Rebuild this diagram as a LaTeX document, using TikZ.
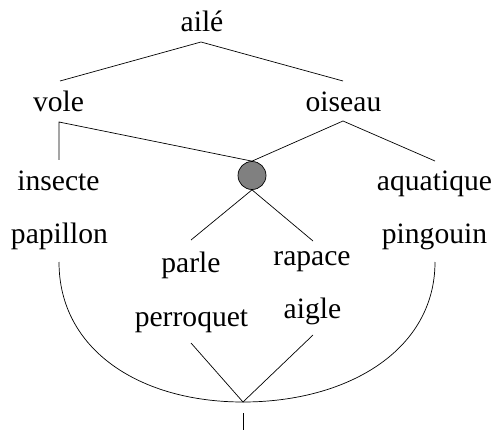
\documentclass[tikz,border=0pt]{standalone}
\usepackage{fontspec}
\setmainfont{Liberation Serif}
\begin{document}
\begin{tikzpicture}[x=1pt,y=-1pt,
  lbl/.style={anchor=base,inner sep=0pt,font=\fontsize{29.6}{32}\selectfont},
  edge/.style={line width=0.7pt,black},
  joint/.style={circle,draw=black,fill=black!50,line width=0.7pt,minimum size=28pt,inner sep=0pt}]
\useasboundingbox (0,0) rectangle (497,430);
% labels
\node[lbl] (aile) at (202,32) {ailé};
\node[lbl] (vole) at (58.5,112) {vole};
\node[lbl] (oiseau) at (343.5,112) {oiseau};
\node[lbl] (insecte) at (58.5,190) {insecte};
\node[lbl] (aquatique) at (434.5,190) {aquatique};
\node[lbl] (papillon) at (59.5,243) {papillon};
\node[lbl] (pingouin) at (434.5,243) {pingouin};
\node[lbl] (parle) at (191,272) {parle};
\node[lbl] (rapace) at (312,265) {rapace};
\node[lbl] (perroquet) at (191.5,326) {perroquet};
\node[lbl] (aigle) at (312.5,318) {aigle};
\node[joint] (j) at (252,175.5) {};
% attachment points
\coordinate (aileB) at (201,42);
\coordinate (voleT) at (60,81);
\coordinate (oiseauT) at (343,81);
\coordinate (voleB) at (59,122);
\coordinate (oiseauB) at (343,121);
\coordinate (insecteT) at (59,160);
\coordinate (aquatiqueT) at (435,161);
\coordinate (parleT) at (191,240);
\coordinate (rapaceT) at (313,241);
\coordinate (papillonB) at (59,262);
\coordinate (pingouinB) at (435,262);
\coordinate (perroquetB) at (191,343);
\coordinate (aigleB) at (313,335);
\coordinate (bot) at (243,402);
\coordinate (stemT) at (243,413);
\coordinate (stemB) at (243,430);
% connectors
\draw[edge] (voleT) -- (aileB) -- (oiseauT);
\draw[edge] (insecteT) -- (voleB) -- (j.north);
\draw[edge] (j.north) -- (oiseauB) -- (aquatiqueT);
\draw[edge] (parleT) -- (j.south) -- (rapaceT);
\draw[edge] (perroquetB) -- (bot) -- (aigleB);
\draw[edge] (papillonB) .. controls (59,350) and (140,402) .. (bot);
\draw[edge] (pingouinB) .. controls (435,350) and (348,402) .. (bot);
\draw[edge] (stemT) -- (stemB);
\end{tikzpicture}
\end{document}
